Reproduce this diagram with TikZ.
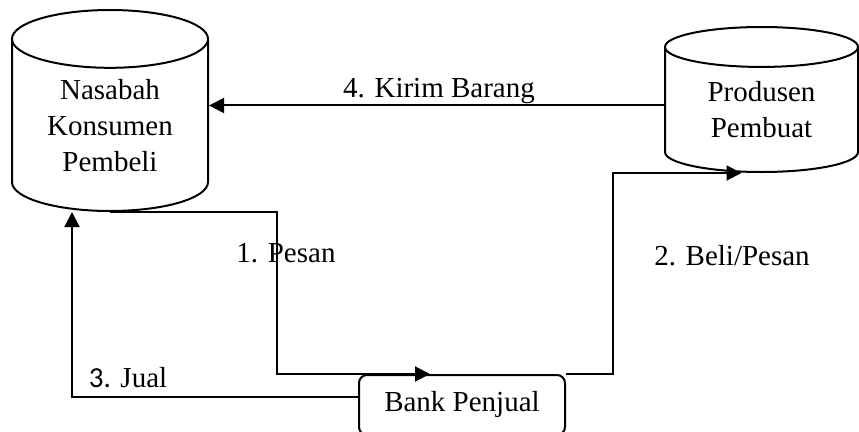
\documentclass[tikz,border=0pt]{standalone}
\usepackage{fontspec}
\setmainfont{Liberation Serif}
\newfontfamily\calibri{Carlito}
\usetikzlibrary{shapes.geometric,arrows.meta}

\tikzset{
  store/.style={cylinder, shape border rotate=90, draw, line width=2pt, align=center,
    inner sep=0pt, anchor=shape center, font=\fontsize{29}{36}\selectfont},
  bankbox/.style={rectangle, rounded corners=8pt, draw, line width=2pt,
    minimum width=206pt, minimum height=60pt, font=\fontsize{29}{36}\selectfont},
  flow/.style={line width=2pt, -{Triangle[length=15pt,width=15pt]}},
  lbl/.style={font=\fontsize{29}{36}\selectfont, anchor=base}
}

\begin{document}
\begin{tikzpicture}[x=1pt,y=-1pt]
    \clip (0,0) rectangle (859,431);
    %stores
    \node[store, minimum width=196pt, minimum height=201pt, aspect=0.46] (nasabah) at (110,110.5) {Nasabah\\Konsumen\\Pembeli};
    \node[store, minimum width=193pt, minimum height=145pt, aspect=0.37] (produsen) at (761.5,99.5) {Produsen\\Pembuat};
    \node[bankbox] (bank) at (462,405) {Bank Penjual};
    %labels
    \node[lbl] (kirim) at (439,97) {4. Kirim Barang};
    \node[lbl] (pesan) at (286,262) {1. Pesan};
    \node[lbl] (beli) at (732,265) {2. Beli/Pesan};
    \node[lbl] (jual) at (128,387) {{\calibri 3.} Jual};
    %edges
    \draw[flow] (nasabah.south) -| ([xshift=-185pt]bank.north) -- ([xshift=-32pt]bank.north);
    \draw[flow] (bank.north east) -- ++(47,0) |- ([xshift=-20pt]produsen.south);
    \draw[flow] ([yshift=8pt]bank.west) -| ([xshift=-38pt]nasabah.south);
    \draw[flow] ([yshift=4.5pt]produsen.west) -- ([yshift=4.5pt]produsen.west -| nasabah.east);
\end{tikzpicture}
\end{document}
